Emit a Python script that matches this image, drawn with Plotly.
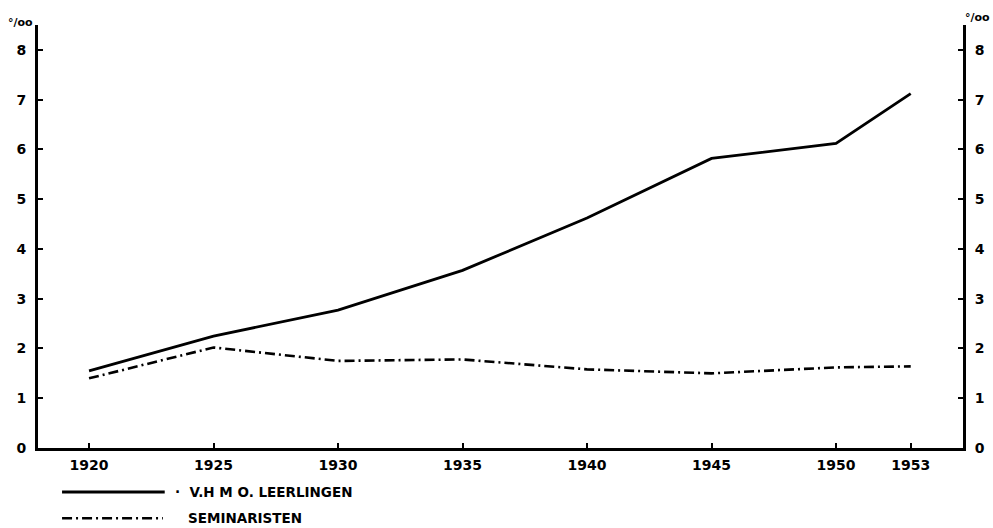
import plotly.graph_objects as go

years = [1920, 1925, 1930, 1935, 1940, 1945, 1950, 1953]
vhmo_leerlingen = [1.55, 2.25, 2.77, 3.57, 4.62, 5.82, 6.12, 7.12]
seminaristen = [1.40, 2.02, 1.75, 1.78, 1.58, 1.50, 1.62, 1.64]
y_ticks = [0, 1, 2, 3, 4, 5, 6, 7, 8]
series_names = ["V.H M O. LEERLINGEN", "SEMINARISTEN"]

FONT = dict(family="DejaVu Sans", size=14, color="black", weight="bold")
LEG_FONT = dict(family="DejaVu Sans", size=13.5, color="black", weight="bold")
UNIT_FONT = dict(family="DejaVu Sans", size=11, color="black", weight="bold")

fig = go.Figure()
fig.add_trace(go.Scatter(x=years, y=vhmo_leerlingen, mode="lines", name=series_names[0],
                         line=dict(color="black", width=2.8), showlegend=False))
fig.add_trace(go.Scatter(x=years, y=seminaristen, mode="lines", name=series_names[1],
                         line=dict(color="black", width=2.6, dash="10px,4px,2px,4px"),
                         showlegend=False))
# invisible helper trace so the right-hand axis is drawn
fig.add_trace(go.Scatter(x=years, y=seminaristen, mode="lines", yaxis="y2",
                         line=dict(color="rgba(0,0,0,0)"), hoverinfo="skip", showlegend=False))

axis_common = dict(range=[0, 8.5], tickvals=y_ticks, ticktext=[str(v) for v in y_ticks],
                   showline=True, linecolor="black", linewidth=3, ticks="inside",
                   ticklen=5, tickwidth=2, tickcolor="black", showgrid=False,
                   zeroline=False, tickfont=FONT, automargin=False, ticklabelstandoff=6)

fig.update_layout(
    width=993, height=528,
    margin=dict(l=38, r=30, t=25, b=80, autoexpand=False),
    paper_bgcolor="white", plot_bgcolor="white",
    xaxis=dict(range=[1917.95, 1955.1], tickvals=years, ticktext=[str(y) for y in years],
               showline=True, linecolor="black", linewidth=3, ticks="inside", ticklen=5,
               tickwidth=2, tickcolor="black", showgrid=False, zeroline=False,
               tickfont=FONT, automargin=False, ticklabelstandoff=2),
    yaxis=dict(**axis_common, side="left"),
    yaxis2=dict(**axis_common, side="right", overlaying="y", matches="y"),
)

# per-mille labels above axes
fig.add_annotation(text="°/oo", xref="paper", yref="paper", x=-0.019, y=1.007,
                   xanchor="center", yanchor="middle", showarrow=False, font=UNIT_FONT)
fig.add_annotation(text="°/oo", xref="paper", yref="paper", x=1.016, y=1.017,
                   xanchor="center", yanchor="middle", showarrow=False, font=UNIT_FONT)

# legend keys
fig.add_shape(type="line", xref="paper", yref="paper", x0=0.026, x1=0.137, y0=-0.104, y1=-0.104,
              line=dict(color="black", width=2.8))
fig.add_shape(type="line", xref="paper", yref="paper", x0=0.026, x1=0.135, y0=-0.166, y1=-0.166,
              line=dict(color="black", width=2.6, dash="10px,4px,2px,4px"))
fig.add_annotation(text="·  " + series_names[0], xref="paper", yref="paper", x=0.146, y=-0.104,
                   xanchor="left", yanchor="middle", showarrow=False, font=LEG_FONT)
fig.add_annotation(text=series_names[1], xref="paper", yref="paper", x=0.160, y=-0.166,
                   xanchor="left", yanchor="middle", showarrow=False, font=LEG_FONT)

fig.write_html("out.html", config={"displayModeBar": False},
               post_script="document.body.style.margin='0';document.body.style.overflow='hidden';")
